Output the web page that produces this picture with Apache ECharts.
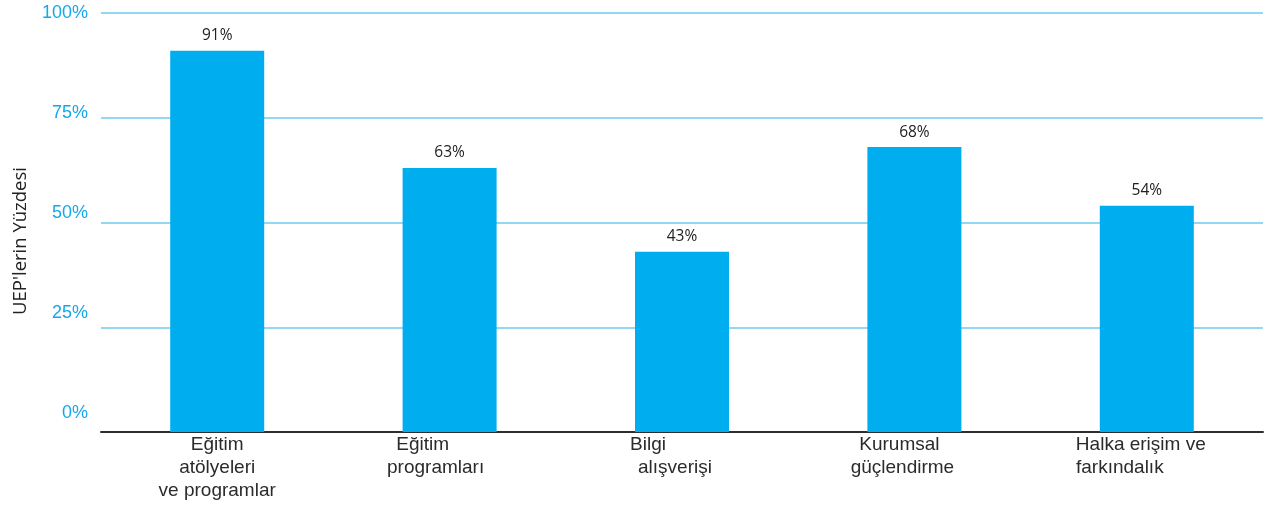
<!DOCTYPE html>
<html>
<head>
<meta charset="utf-8">
<script src="https://cdn.jsdelivr.net/npm/echarts@6/dist/echarts.min.js"></script>
<style>
  html, body { margin: 0; padding: 0; background: #fff; }
  #chart { width: 1268px; height: 507px; }
</style>
</head>
<body>
<div id="chart"></div>
<script>
// Share of UEPs per activity type
const categories = [
  'Eğitim\natölyeleri\nve programlar',
  'Eğitim\nprogramları',
  'Bilgi\nalışverişi',
  'Kurumsal\ngüçlendirme',
  'Halka erişim ve\nfarkındalık'
];
const values = [91, 63, 43, 68, 54];
const yTicks = [0, 25, 50, 75, 100];

// Per-line horizontal nudges (px to the left) for the category labels
const lineShift = [
  [0, 0, 0],
  [27, 14],
  [34, 7],
  [15, 12],
  [6, 27]
];

const rich = {};
const labelFont = { fontFamily: 'Liberation Sans, Arial, sans-serif', fontSize: 19, color: '#2b2b2b', lineHeight: 23 };
lineShift.forEach((shifts, i) => {
  shifts.forEach((s, j) => {
    rich['c' + i + '_' + j] = Object.assign({}, labelFont, { padding: [0, 2 * s, 0, 0] });
  });
});

const chart = echarts.init(document.getElementById('chart'));
chart.setOption({
  animation: false,
  grid: { left: 101, right: 5, top: 13, bottom: 75, outerBoundsMode: 'none', containLabel: false },
  xAxis: {
    type: 'category',
    data: categories,
    axisLine: { show: true, lineStyle: { color: '#2e2e2e', width: 2 } },
    axisTick: { show: false },
    axisLabel: {
      margin: 1,
      interval: 0,
      formatter: function (value, idx) {
        return value.split('\n').map((line, j) => '{c' + idx + '_' + j + '|' + line + '}').join('\n');
      },
      rich: rich
    }
  },
  yAxis: [{
    // value scale for the bars and the gridlines
    type: 'value',
    min: yTicks[0],
    max: yTicks[yTicks.length - 1],
    interval: 25,
    name: "UEP'lerin Yüzdesi",
    nameLocation: 'middle',
    nameGap: 71,
    nameTextStyle: {
      fontFamily: 'Open Sans, Noto Sans, sans-serif',
      fontSize: 18.5,
      color: '#222',
      padding: [0, 37, 0, 0]
    },
    axisLine: { show: false },
    axisTick: { show: false },
    axisLabel: { show: false },
    splitLine: { show: true, lineStyle: { color: '#6ccbf2', width: 1.5 } }
  }, {
    // tick labels, set evenly a little above their gridlines
    type: 'value',
    position: 'left',
    min: -4.75,
    max: 100,
    axisLine: { show: false },
    axisTick: { show: false },
    splitLine: { show: false },
    axisLabel: {
      customValues: yTicks,
      margin: 13,
      fontFamily: 'Liberation Sans, Arial, sans-serif',
      fontSize: 18,
      color: '#14a8ea',
      formatter: v => v + '%'
    }
  }],
  series: [{
    type: 'bar',
    data: values,
    barWidth: 94,
    itemStyle: { color: '#00adef' },
    label: {
      show: true,
      position: 'top',
      distance: 7,
      fontFamily: 'Open Sans, Noto Sans, sans-serif',
      fontSize: 15.5,
      color: '#222',
      formatter: p => p.value + '%'
    }
  }]
});
</script>
</body>
</html>
